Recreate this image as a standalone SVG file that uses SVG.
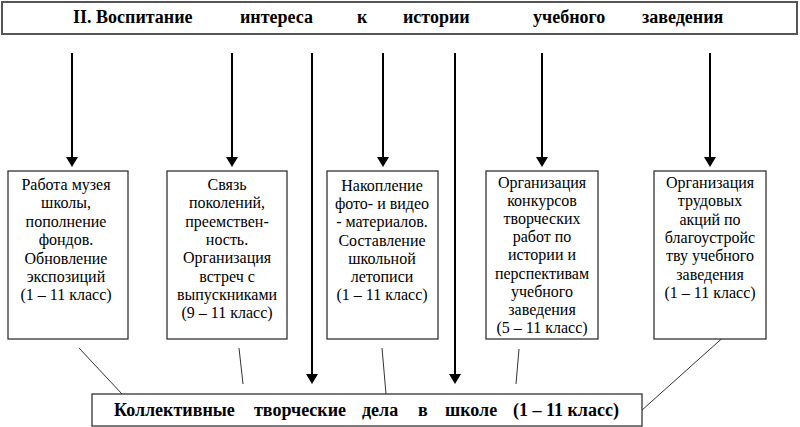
<svg xmlns="http://www.w3.org/2000/svg" width="800" height="427" viewBox="0 0 800 427">
<style>
.frame{fill:#fff;stroke:#333;stroke-width:1.3}
.top{fill:#fff;stroke:#555;stroke-width:2}
.hd{font-family:'Liberation Serif','Times New Roman','DejaVu Serif',serif;font-weight:bold;font-size:18px;fill:#000}
.bt{font-family:'Liberation Serif','Times New Roman','DejaVu Serif',serif;font-weight:bold;font-size:18px;fill:#000}
.tx{font-family:'Liberation Serif','Times New Roman','DejaVu Serif',serif;font-size:16px;fill:#000;text-anchor:middle}
.arr{stroke:#000;stroke-width:2;fill:none}
.thin{stroke:#333;stroke-width:1;fill:none}
</style>
<defs>
<marker id="ah" viewBox="0 0 10 12" refX="0" refY="6" markerWidth="10" markerHeight="12" orient="auto" markerUnits="userSpaceOnUse">
<path d="M0,0 L10,6 L0,12 z" fill="#000"/>
</marker>
</defs>
<rect width="800" height="427" fill="#fff"/>

<g id="title">
<rect class="top" x="2" y="2" width="795" height="32"/>
<text class="hd" y="23"><tspan x="73">II. Воспитание</tspan><tspan x="240">интереса</tspan><tspan x="357">к</tspan><tspan x="403">истории</tspan><tspan x="533">учебного</tspan><tspan x="642">заведения</tspan></text>
</g>

<g id="connectors">
<line class="arr" x1="72" y1="53" x2="72" y2="157" marker-end="url(#ah)"/>
<line class="arr" x1="232" y1="53" x2="232" y2="157" marker-end="url(#ah)"/>
<line class="arr" x1="383" y1="53" x2="383" y2="157" marker-end="url(#ah)"/>
<line class="arr" x1="542" y1="53" x2="542" y2="157" marker-end="url(#ah)"/>
<line class="arr" x1="710" y1="53" x2="710" y2="157" marker-end="url(#ah)"/>
<line class="arr" x1="312" y1="53" x2="312" y2="374" marker-end="url(#ah)"/>
<line class="arr" x1="455" y1="53" x2="455" y2="374" marker-end="url(#ah)"/>
<line class="thin" x1="79" y1="348" x2="122" y2="394"/>
<line class="thin" x1="239" y1="348" x2="243" y2="384"/>
<line class="thin" x1="382" y1="348" x2="386" y2="394"/>
<line class="thin" x1="519" y1="349" x2="516" y2="384"/>
<line class="thin" x1="728" y1="333" x2="641" y2="411"/>
</g>

<g id="box1">
<rect class="frame" x="8" y="171" width="120" height="168"/>
<text class="tx" y="190"><tspan x="66">Работа музея</tspan><tspan x="66" dy="18.4">школы,</tspan><tspan x="66" dy="18.4">пополнение</tspan><tspan x="66" dy="18.4">фондов.</tspan><tspan x="66" dy="18.4">Обновление</tspan><tspan x="66" dy="18.4">экспозиций</tspan><tspan x="66" dy="18.4">(1 – 11 класс)</tspan></text>
</g>

<g id="box2">
<rect class="frame" x="167" y="171" width="120" height="168"/>
<text class="tx" y="190"><tspan x="227">Связь</tspan><tspan x="227" dy="18.3">поколений,</tspan><tspan x="227" dy="18.3">преемствен-</tspan><tspan x="227" dy="18.3">ность.</tspan><tspan x="227" dy="18.3">Организация</tspan><tspan x="227" dy="18.3">встреч с</tspan><tspan x="227" dy="18.3">выпускниками</tspan><tspan x="227" dy="18.3">(9 – 11 класс)</tspan></text>
</g>

<g id="box3">
<rect class="frame" x="327" y="171" width="111" height="168"/>
<text class="tx" y="191"><tspan x="382">Накопление</tspan><tspan x="382" dy="18.2">фото- и видео</tspan><tspan x="382" dy="18.2">-  материалов.</tspan><tspan x="382" dy="18.2">Составление</tspan><tspan x="382" dy="18.2">школьной</tspan><tspan x="382" dy="18.2">летописи</tspan><tspan x="382" dy="18.2">(1 – 11 класс)</tspan></text>
</g>

<g id="box4">
<rect class="frame" x="486" y="171" width="112" height="168"/>
<text class="tx" y="188"><tspan x="542">Организация</tspan><tspan x="542" dy="18.1">конкурсов</tspan><tspan x="542" dy="18.1">творческих</tspan><tspan x="542" dy="18.1">работ по</tspan><tspan x="542" dy="18.1">истории и</tspan><tspan x="542" dy="18.1">перспективам</tspan><tspan x="542" dy="18.1">учебного</tspan><tspan x="542" dy="18.1">заведения</tspan><tspan x="542" dy="18.1">(5 – 11 класс)</tspan></text>
</g>

<g id="box5">
<rect class="frame" x="654" y="171" width="112" height="168"/>
<text class="tx" y="188"><tspan x="710">Организация</tspan><tspan x="710" dy="18.3">трудовых</tspan><tspan x="710" dy="18.3">акций по</tspan><tspan x="710" dy="18.3">благоустройс</tspan><tspan x="710" dy="18.3">тву учебного</tspan><tspan x="710" dy="18.3">заведения</tspan><tspan x="710" dy="18.3">(1 – 11 класс)</tspan></text>
</g>

<g id="bottom">
<rect class="frame" x="92" y="394" width="550" height="32"/>
<text class="bt" y="416"><tspan x="114">Коллективные</tspan><tspan x="254">творческие</tspan><tspan x="362">дела</tspan><tspan x="418">в</tspan><tspan x="445">школе</tspan><tspan x="513">(1 – 11 класс)</tspan></text>
</g>
</svg>
